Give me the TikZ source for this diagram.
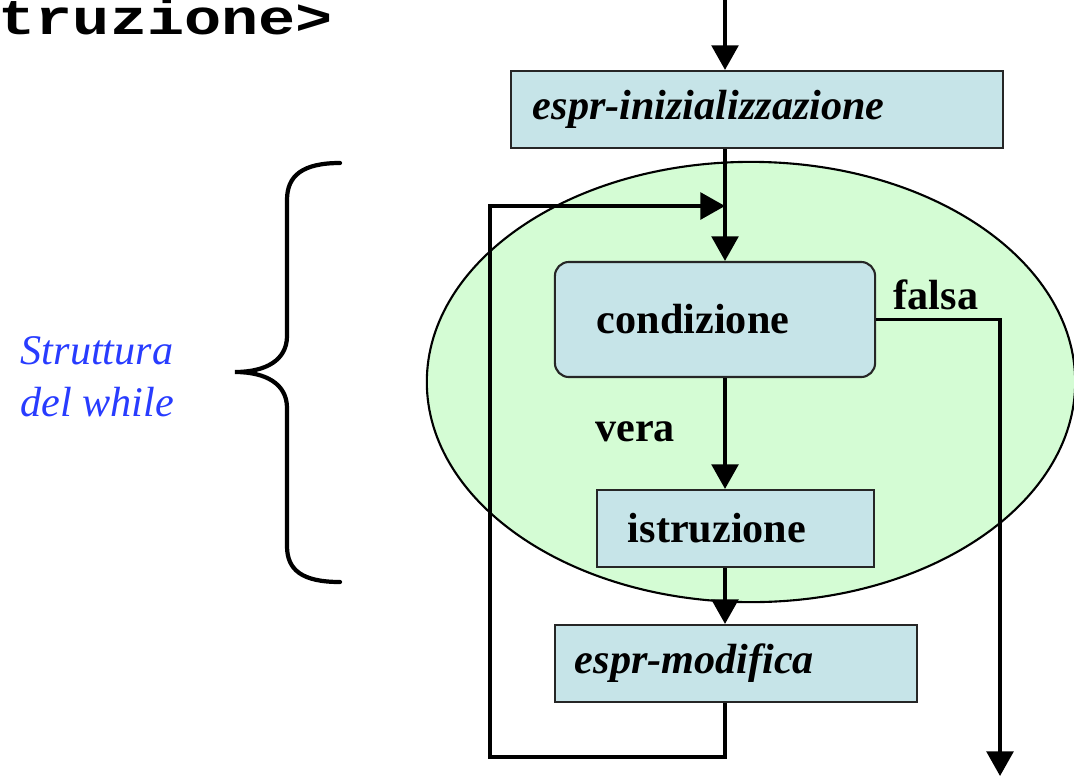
\documentclass[tikz,border=0pt]{standalone}
\usepackage{fontspec}
\setmainfont{Liberation Serif}
\newfontfamily\monobold{Liberation Mono}
\usetikzlibrary{arrows.meta}
\definecolor{boxfill}{RGB}{198,228,232}
\definecolor{loopfill}{RGB}{212,252,212}
\definecolor{notecol}{RGB}{40,60,255}
\begin{document}
\begin{tikzpicture}[x=0.01cm,y=-0.01cm,
  flowbox/.style={draw=black!85, line width=0.6pt, fill=boxfill,
    minimum height=0.77cm, inner ysep=0pt,
    font=\fontsize{12}{14}\selectfont\bfseries, align=left},
  flow/.style={line width=1pt, -{Triangle[length=7pt,width=7.6pt]}},
  lbl/.style={font=\fontsize{12}{14}\selectfont\bfseries, inner sep=0pt},
  brace/.style={line width=1.2pt, line cap=round}
]
\useasboundingbox (0,0) rectangle (1074,776);

% heading fragment, slightly condensed in height
\begin{scope}[shift={(-2,35)}, yscale=0.8]
\node[anchor=base west, inner sep=0pt, transform shape,
  font=\monobold\fontsize{17.6}{20}\selectfont\bfseries] (head) at (0,0) {truzione>};
\end{scope}

% region of the while loop
\fill[loopfill] (751,382) ellipse [x radius=3.24cm, y radius=2.2cm];
\draw[line width=0.6pt] (751,382) ellipse [x radius=3.24cm, y radius=2.2cm];

% flow blocks
\node[flowbox, text width=4.48cm, inner xsep=0.22cm] (init) at (757,109.5)
  {\itshape espr-inizializzazione};
\node[flowbox, rounded corners=4pt, minimum height=1.15cm, text width=2.36cm, inner xsep=0.42cm]
  (cond) at (715,319.5) {condizione};
\node[flowbox, text width=2.15cm, inner xsep=0.31cm] (body) at (735.5,528.5) {istruzione};
\node[flowbox, text width=3.22cm, inner xsep=0.20cm] (mod) at (736,663.5)
  {\itshape espr-modifica};

% branch labels
\node[lbl] (vera) at (635,432) {vera};
\node[lbl] (falsa) at (936,295) {falsa};

% connectors
\coordinate (axis) at (725,0);
\coordinate (loopbl) at (490,757);
\coordinate (looptl) at (490,206);
\coordinate (exit) at (1000,776);

\draw[flow] (axis) -- (axis |- init.north);
\draw[flow] (init.south -| axis) -- (cond.north -| axis);
\draw[flow] (cond.south -| axis) -- (body.north -| axis);
\draw[flow] (body.south -| axis) -- (mod.north -| axis);
\draw[flow] (mod.south -| axis) |- (loopbl) -- (looptl) -- (looptl -| axis);
\draw[flow] (cond.east) -| (exit);

% brace and its note
\draw[brace] (340,163) .. controls (302,163) and (287,176) .. (287,200)
  -- (287,336) .. controls (287,360) and (266,372) .. (235,372)
  .. controls (266,372) and (287,384) .. (287,408)
  -- (287,546) .. controls (287,570) and (302,582) .. (340,582);
\node[align=center, text=notecol, inner sep=0pt,
  font=\fontsize{12}{14.8}\selectfont\itshape] (note) at (97,377) {Struttura\\del while};
\end{tikzpicture}
\end{document}
